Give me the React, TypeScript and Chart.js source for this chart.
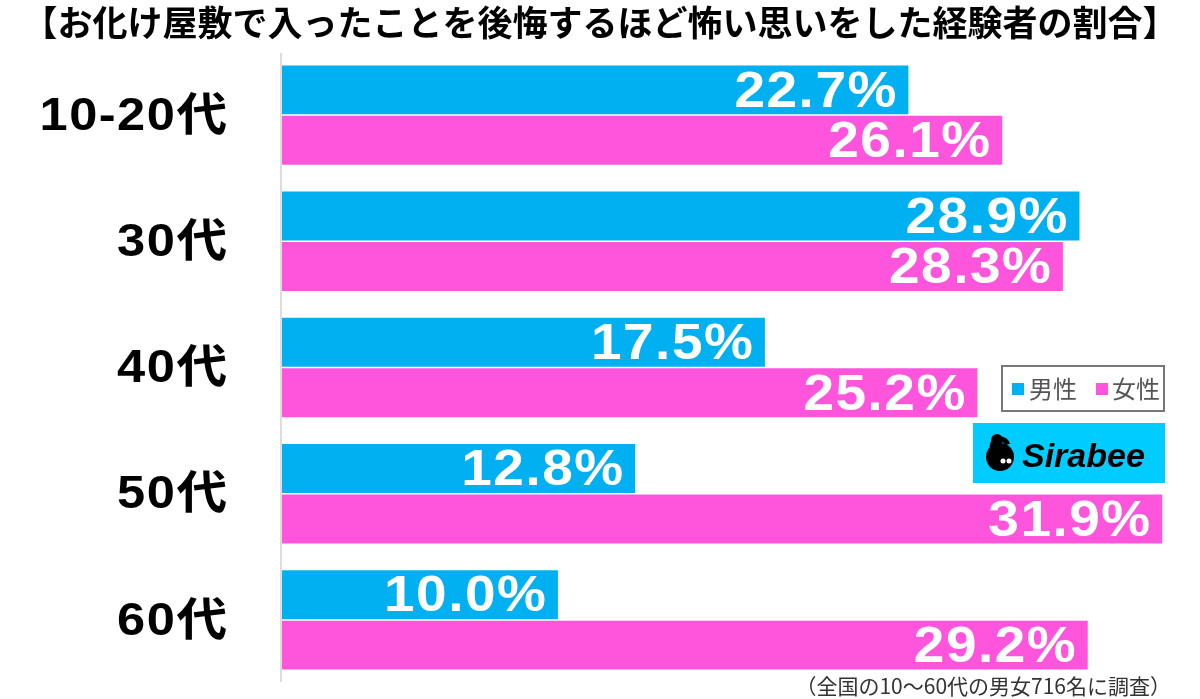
import React, { useEffect, useRef } from "react";
import { Chart, registerables } from "chart.js";

Chart.register(...registerables);

const title = "【お化け屋敷で入ったことを後悔するほど怖い思いをした経験者の割合】";
const categories = ["10-20代", "30代", "40代", "50代", "60代"];
const maleValues = [22.7, 28.9, 17.5, 12.8, 10.0];
const femaleValues = [26.1, 28.3, 25.2, 31.9, 29.2];
const seriesNames = ["男性", "女性"];
const footnote = "（全国の10〜60代の男女716名に調査）";
const brand = "Sirabee";

const BLUE = "#00B0F0";
const PINK = "#FF55DD";
const FONT = '"Noto Sans CJK JP", "Noto Sans", sans-serif';
const NUMFONT = '"Liberation Sans", "Noto Sans CJK JP", sans-serif';

function stretchedRight(
  ctx: CanvasRenderingContext2D,
  text: string,
  right: number,
  y: number,
  spacing: number,
  sx: number
) {
  const chars = Array.from(text);
  const widths = chars.map((c) => ctx.measureText(c).width * sx);
  const total = widths.reduce((a, b) => a + b, 0) + spacing * (chars.length - 1);
  let x = right - total;
  ctx.save();
  ctx.textAlign = "left";
  chars.forEach((c, i) => {
    ctx.save();
    ctx.translate(x, y);
    ctx.scale(sx, 1);
    ctx.fillText(c, 0, 0);
    ctx.restore();
    x += widths[i] + spacing;
  });
  ctx.restore();
}

const customPlugin = {
  id: "customDraw",
  afterDatasetsDraw(chart: any) {
    const ctx = chart.ctx as CanvasRenderingContext2D;
    const area = chart.chartArea;
    const yScale = chart.scales.y;
    ctx.save();

    // axis line
    ctx.fillStyle = "#DDDDDD";
    ctx.fillRect(area.left - 2, area.top + 1, 2, area.bottom - area.top - 2);

    // category labels
    ctx.fillStyle = "#000";
    ctx.font = `bold 46px ${NUMFONT}`;
    ctx.textBaseline = "middle";
    categories.forEach((c, i) => {
      const y = yScale.getPixelForValue(i);
      stretchedRight(ctx, c, 227, y + 2, 1.5, 1.1);
    });

    // value labels
    ctx.fillStyle = "#FFFFFF";
    ctx.font = `bold 50px ${NUMFONT}`;
    chart.data.datasets.forEach((ds: any, di: number) => {
      const meta = chart.getDatasetMeta(di);
      meta.data.forEach((bar: any, i: number) => {
        const v = ds.data[i] as number;
        stretchedRight(ctx, v.toFixed(1) + "%", bar.x - 12, bar.y + 3, 1.5, 1.1);
      });
    });

    // title
    ctx.fillStyle = "#000";
    ctx.font = `bold 35px ${FONT}`;
    ctx.textAlign = "center";
    ctx.fillText(title, 600, 23);

    // footnote
    ctx.fillStyle = "#333";
    ctx.font = `21px ${FONT}`;
    ctx.textAlign = "right";
    ctx.fillText(footnote, 1171, 686);

    // legend box
    ctx.strokeStyle = "#777";
    ctx.lineWidth = 2;
    ctx.strokeRect(1002, 366, 162, 45);
    ctx.font = `24px ${FONT}`;
    ctx.textAlign = "left";
    ctx.fillStyle = BLUE;
    ctx.fillRect(1012, 383, 12, 12);
    ctx.fillStyle = "#555";
    ctx.fillText(seriesNames[0], 1029, 389);
    ctx.fillStyle = PINK;
    ctx.fillRect(1096, 383, 12, 12);
    ctx.fillStyle = "#555";
    ctx.fillText(seriesNames[1], 1112, 389);

    // brand box
    ctx.fillStyle = "#00CCFF";
    ctx.fillRect(973, 423, 192, 60);
    ctx.fillStyle = "#000";
    ctx.beginPath();
    ctx.arc(1000, 457, 14, 0, Math.PI * 2);
    ctx.fill();
    ctx.beginPath();
    ctx.arc(997, 440, 6, 0, Math.PI * 2);
    ctx.fill();
    ctx.lineWidth = 5;
    ctx.strokeStyle = "#000";
    ctx.beginPath();
    ctx.arc(1000, 447, 8, Math.PI * 1.0, Math.PI * 1.9, false);
    ctx.stroke();
    ctx.fillStyle = "#fff";
    ctx.beginPath();
    ctx.arc(1003, 461, 2.5, 0, Math.PI * 2);
    ctx.arc(1009, 461, 2.5, 0, Math.PI * 2);
    ctx.fill();
    ctx.fillStyle = "#000";
    ctx.font = `italic bold 34px "Liberation Sans", ${FONT}`;
    ctx.textAlign = "left";
    ctx.textBaseline = "alphabetic";
    ctx.fillText(brand, 1022, 467);

    ctx.restore();
  },
};

export default function App() {
  const ref = useRef<HTMLCanvasElement>(null);
  useEffect(() => {
    if (!ref.current) return;
    const chart = new Chart(ref.current, {
      type: "bar",
      data: {
        labels: categories,
        datasets: [
          {
            label: seriesNames[0],
            data: maleValues,
            backgroundColor: BLUE,
            categoryPercentage: 0.8,
            barPercentage: 0.97,
          },
          {
            label: seriesNames[1],
            data: femaleValues,
            backgroundColor: PINK,
            categoryPercentage: 0.8,
            barPercentage: 0.97,
          },
        ],
      },
      options: {
        indexAxis: "y",
        responsive: false,
        animation: false,
        layout: { padding: { left: 282, right: 35, top: 52, bottom: 16 } },
        plugins: {
          legend: { display: false },
          tooltip: { enabled: false },
          title: { display: false },
        },
        scales: {
          x: { display: false, min: 0, max: 32, grid: { display: false } },
          y: { display: false, grid: { display: false } },
        },
      },
      plugins: [customPlugin],
    });
    return () => chart.destroy();
  }, []);
  return (
    <div style={{ position: "absolute", left: 0, top: 0, width: 1200, height: 699, background: "#fff" }}>
      <canvas ref={ref} width={1200} height={699} style={{ width: 1200, height: 699, display: "block" }} />
    </div>
  );
}
